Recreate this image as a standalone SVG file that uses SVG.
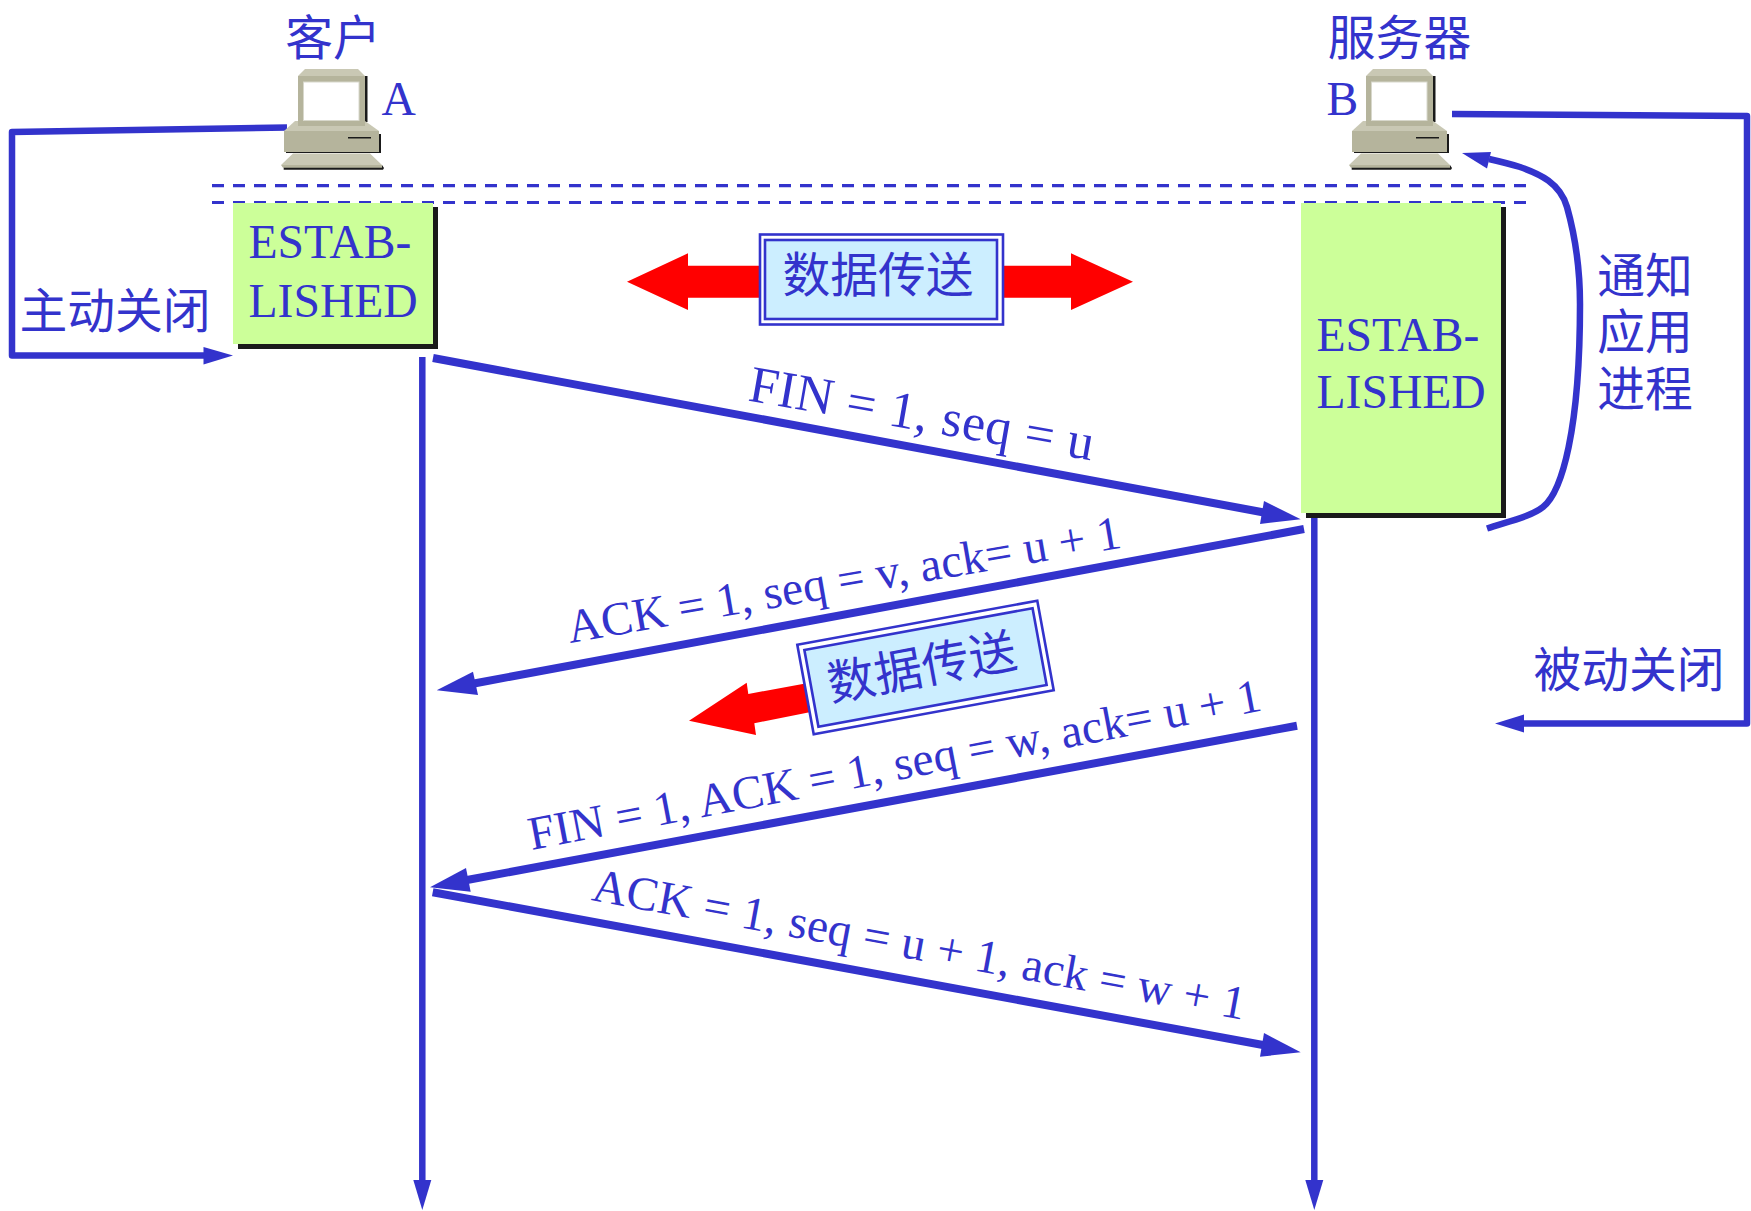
<svg xmlns="http://www.w3.org/2000/svg" width="1751" height="1211" viewBox="0 0 1751 1211">
<style>
.lat{font-family:"Liberation Serif","Times New Roman",serif;fill:#3333cc;font-size:47.600px}
.el{font-size:47.500px}
.big{font-size:52px}
.cjk{font-family:"Noto Sans CJK SC","Noto Sans",sans-serif;fill:#3333cc;font-size:47.800px}
.ln{fill:none;stroke:#3333cc;stroke-width:6.500;stroke-linejoin:round}
.th{fill:none;stroke:#3333cc;stroke-width:8}
.hd{fill:#3333cc}
.dash{stroke:#3333cc;stroke-width:3.200;stroke-dasharray:12 9;fill:none}
.st{fill:#ccff99}
.sh{fill:#1a1a1a}
.red{fill:#ff0000}
.bx{fill:#fff;stroke:#3333cc;stroke-width:2.600}
.bi{fill:#cceeff;stroke:#3333cc;stroke-width:2.600}
.m{fill:#b5b49c}
.l{fill:#c9c8b4}
</style>
<defs>
<g id="pc">
<polygon class="sh" points="283.700,167 382,165 384,168 383,169.700 283.700,169.700"/>
<rect class="sh" x="363" y="76" width="4.500" height="46"/>
<rect class="sh" x="286" y="134" width="95" height="19"/>
<polygon class="l" points="298,76 305,69 358,69 365,76"/>
<rect class="m" x="298" y="76" width="67" height="50"/>
<rect x="303.500" y="82" width="55.500" height="38.500" fill="#fff" stroke="#d8d8cc" stroke-width="1"/>
<polygon class="l" points="284,131 295,121 365,121 379,131"/>
<rect class="m" x="298" y="121" width="67" height="5"/>
<rect class="m" x="284" y="131" width="95" height="21"/>
<rect class="sh" x="348" y="137" width="23" height="1.500"/>
<polygon class="l" points="281,165 293,153.500 370,153.500 382,165"/>
<polygon class="m" points="281,165 382,165 382,167.700 283,167.700"/>
</g>
</defs>
<g id="connectors">
<polyline class="ln" points="287,127.500 12,132 12,355.500 205,355.500"/>
<polygon class="hd" points="233,355.500 203.500,347 203.500,364.500"/>
<polyline class="ln" points="1452,114 1747,116 1747,723.500 1522,723.500"/>
<polygon class="hd" points="1495,723.500 1524,714.500 1524,732.500"/>
<path class="ln" d="M1487,528.500 C1510,521 1532,516 1543,507 C1562,492 1580,430 1580,304 C1580,265 1574,232 1567,207 C1560,183 1540,174 1520,167 C1510,164 1500,161.500 1489,159"/>
<polygon class="hd" points="1462,153 1491,152 1487,168.500"/>
<line class="ln" x1="422.300" y1="357" x2="422.300" y2="1182"/>
<polygon class="hd" points="422.300,1210 413.300,1180 431.300,1180"/>
<line class="ln" x1="1314.300" y1="518" x2="1314.300" y2="1182"/>
<polygon class="hd" points="1314.300,1210 1305.300,1180 1323.300,1180"/>
<line class="th" x1="433" y1="358" x2="1264" y2="512.500"/>
<polygon class="hd" points="1300.700,519.300 1264,501 1260,524"/>
<line class="th" x1="1304" y1="529" x2="474" y2="683.500"/>
<polygon class="hd" points="436.700,690.300 473,671.700 478,695"/>
<line class="th" x1="1297" y1="725.700" x2="467" y2="880"/>
<polygon class="hd" points="430,887.300 466,868 470.700,891.700"/>
<line class="th" x1="432.700" y1="892.300" x2="1263" y2="1045"/>
<polygon class="hd" points="1300.700,1052.300 1264,1033 1260,1056.700"/>
</g>
<g id="separator">
<line class="dash" x1="212" y1="185.700" x2="1527" y2="185.700"/>
<line class="dash" x1="212" y1="202.500" x2="1527" y2="202.500"/>
</g>
<g id="node-a">
<use href="#pc"/>
<text class="cjk" x="333" y="55" text-anchor="middle">客户</text>
<text class="lat" x="381.500" y="115">A</text>
</g>
<g id="node-b">
<use href="#pc" x="1068"/>
<text class="cjk" x="1399.500" y="55" text-anchor="middle">服务器</text>
<text class="lat" x="1326.500" y="115">B</text>
</g>
<g id="state-a">
<rect class="sh" x="238" y="207" width="200" height="142"/>
<rect class="st" x="233" y="203" width="200" height="141"/>
<text class="lat" x="248.500" y="258">ESTAB-</text>
<text class="lat" x="248.500" y="317">LISHED</text>
</g>
<g id="state-b">
<rect class="sh" x="1306" y="207" width="200" height="311"/>
<rect class="st" x="1301" y="203" width="200" height="310"/>
<text class="lat" x="1316.500" y="351">ESTAB-</text>
<text class="lat" x="1316.500" y="408">LISHED</text>
</g>
<g id="label-active"><text class="cjk" x="115" y="328" text-anchor="middle">主动关闭</text></g>
<g id="label-passive"><text class="cjk" x="1629" y="687" text-anchor="middle">被动关闭</text></g>
<g id="label-notify">
<text class="cjk" x="1645" y="293" text-anchor="middle">通知</text>
<text class="cjk" x="1645" y="349" text-anchor="middle">应用</text>
<text class="cjk" x="1645" y="406" text-anchor="middle">进程</text>
</g>
<g id="data-transfer-1">
<polygon class="red" points="627,281.700 688,253.300 688,265.700 763,265.700 763,297.700 688,297.700 688,310"/>
<polygon class="red" points="1133,281.700 1071,253.300 1071,265.700 1001,265.700 1001,297.700 1071,297.700 1071,310"/>
<rect class="bx" x="760" y="234.500" width="243" height="90"/>
<rect class="bi" x="765" y="240" width="232" height="79"/>
<text class="cjk" x="878" y="292" text-anchor="middle">数据传送</text>
</g>
<g id="data-transfer-2">
<polygon class="red" points="689,720.700 746.700,682.700 748.300,694 806.700,683.300 812,711.700 754.300,723.300 756,735"/>
<g transform="translate(925.500,667.500) rotate(-10.400)">
<rect class="bx" x="-122" y="-45.500" width="244" height="91"/>
<rect class="bi" x="-116" y="-39" width="232" height="78"/>
<text class="cjk" x="-3.500" y="16" text-anchor="middle">数据传送</text>
</g>
</g>
<g id="edge-labels">
<text class="lat big" transform="translate(747,400.500) rotate(9.900)" textLength="349">FIN = 1, seq = u</text>
<text class="lat el" transform="translate(570,643) rotate(-9.800)" textLength="561">ACK = 1, seq = v, ack= u + 1</text>
<text class="lat el" transform="translate(531.500,850) rotate(-10.800)" textLength="745">FIN = 1, ACK = 1, seq = w, ack= u + 1</text>
<text class="lat el" transform="translate(590.500,900) rotate(10.400)" textLength="663">ACK = 1, seq = u + 1, ack = w + 1</text>
</g>
</svg>
